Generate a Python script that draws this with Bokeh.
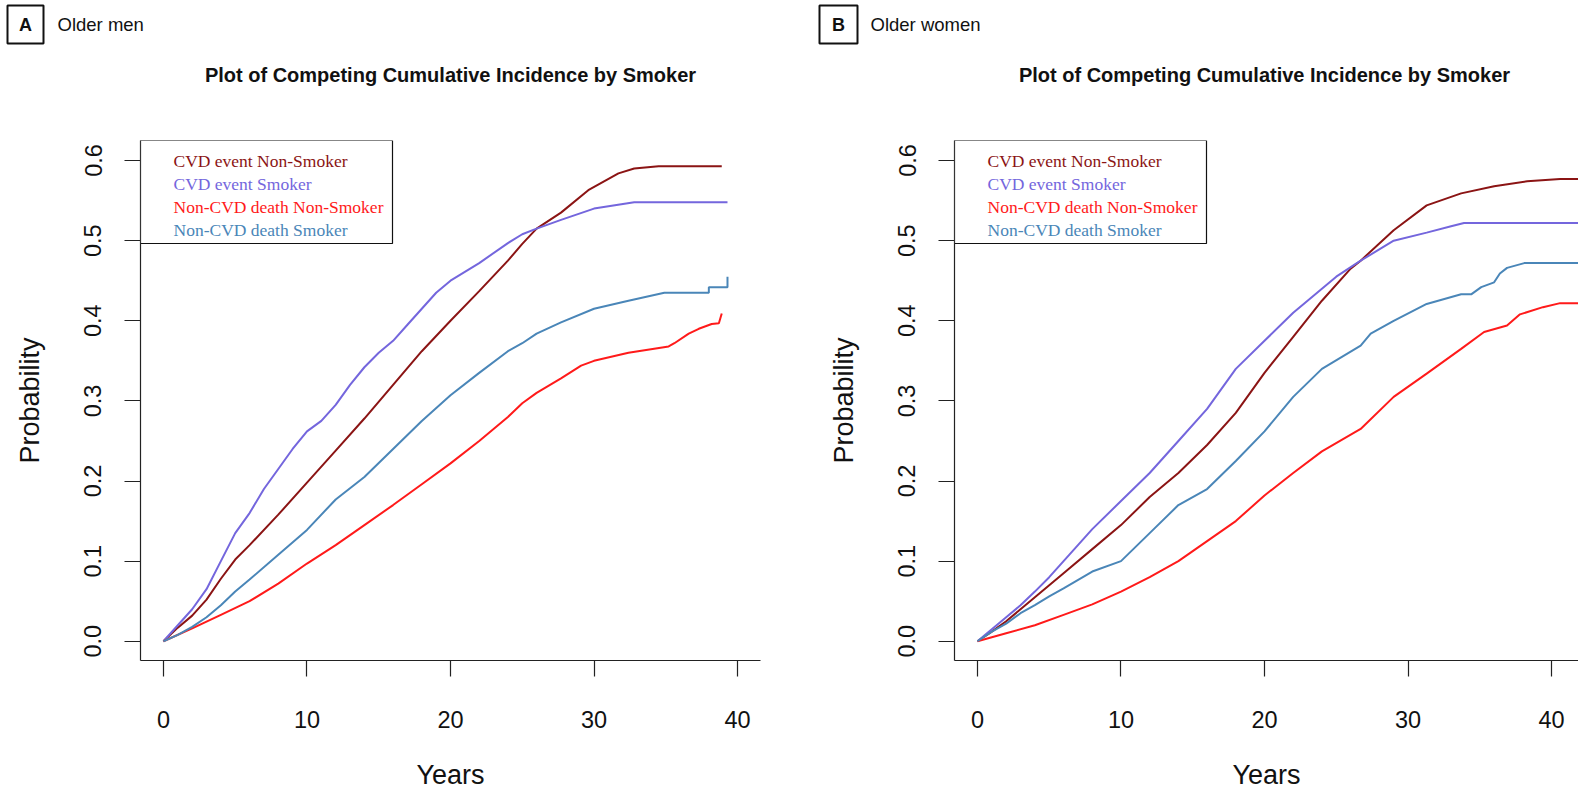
from bokeh.plotting import figure
from bokeh.layouts import row, column
from bokeh.models import BoxAnnotation, FixedTicker, Range1d, PrintfTickFormatter, Label
from bokeh.embed import file_html
from bokeh.resources import INLINE
from bokeh.core.properties import value

# ---------------- data ----------------
series_names = ["CVD event Non-Smoker", "CVD event Smoker",
                "Non-CVD death Non-Smoker", "Non-CVD death Smoker"]
series_colors = ["#8B1414", "#7466DD", "#FF1A1A", "#4A86B8"]

panel_letters = ["A", "B"]
panel_groups = ["Older men", "Older women"]
title_text = "Plot of Competing Cumulative Incidence by Smoker"
x_ticks = [0, 10, 20, 30, 40]
y_ticks = [0.0, 0.1, 0.2, 0.3, 0.4, 0.5, 0.6]

# Panel A (older men)
a_cvd_ns_t = [0, 1, 2, 3, 4, 5, 6, 8, 10, 12, 14, 16, 18, 20, 22, 24, 25, 26, 27.7, 29.6, 31.7, 32.8, 34.5, 38.9]
a_cvd_ns_v = [0, 0.017, 0.032, 0.052, 0.078, 0.102, 0.12, 0.158, 0.198, 0.238, 0.278, 0.32, 0.362, 0.40,
              0.437, 0.475, 0.496, 0.515, 0.535, 0.563, 0.584, 0.59, 0.593, 0.593]
a_cvd_s_t = [0, 1, 2, 3, 4, 5, 6, 7, 8, 9, 10, 11, 12, 13, 14, 15, 16, 17, 18, 19, 20, 22, 24, 25, 26,
             27.7, 30, 32.8, 39.3]
a_cvd_s_v = [0, 0.02, 0.04, 0.065, 0.1, 0.135, 0.16, 0.19, 0.215, 0.24, 0.262, 0.275, 0.295, 0.32, 0.342,
             0.36, 0.375, 0.395, 0.415, 0.435, 0.45, 0.472, 0.497, 0.508, 0.515, 0.526, 0.54, 0.548, 0.548]
a_ncvd_ns_t = [0, 2, 4, 6, 8, 10, 12, 14, 16, 18, 20, 22, 24, 25, 26, 27.7, 29.1, 30, 32.4, 35.2, 35.6,
               36.6, 37.3, 38.2, 38.7, 38.9]
a_ncvd_ns_v = [0, 0.016, 0.033, 0.05, 0.072, 0.097, 0.12, 0.145, 0.17, 0.196, 0.222, 0.25, 0.28, 0.297,
               0.31, 0.328, 0.344, 0.35, 0.36, 0.368, 0.372, 0.384, 0.39, 0.396, 0.397, 0.409]
a_ncvd_s_t = [0, 1, 2, 3, 4, 5, 6, 8, 10, 12, 14, 16, 18, 20, 22, 24, 25, 26, 27.7, 30, 32.4, 34.9,
              38.0, 38.0, 39.3, 39.3]
a_ncvd_s_v = [0, 0.008, 0.018, 0.03, 0.045, 0.062, 0.077, 0.108, 0.139, 0.177, 0.205, 0.24, 0.275, 0.307,
              0.335, 0.362, 0.372, 0.384, 0.398, 0.415, 0.425, 0.435, 0.435, 0.442, 0.442, 0.455]

# Panel B (older women)
b_cvd_ns_t = [0, 1, 2, 3, 4, 5, 6, 8, 10, 12, 14, 16, 18, 20, 22, 24, 26, 26.7, 29, 31.3, 33.7, 36,
              38.3, 40.6, 41.9]
b_cvd_ns_v = [0, 0.012, 0.025, 0.04, 0.055, 0.07, 0.085, 0.115, 0.145, 0.18, 0.21, 0.245, 0.285, 0.335,
              0.38, 0.425, 0.465, 0.475, 0.513, 0.544, 0.559, 0.568, 0.574, 0.577, 0.577]
b_cvd_s_t = [0, 1, 2, 3, 4, 5, 6, 8, 10, 12, 14, 16, 18, 20, 22, 24, 25, 26.7, 29, 31.3, 33, 33.9, 41.9]
b_cvd_s_v = [0, 0.015, 0.03, 0.045, 0.062, 0.08, 0.1, 0.14, 0.175, 0.21, 0.25, 0.29, 0.34, 0.375, 0.41,
             0.44, 0.455, 0.475, 0.50, 0.51, 0.518, 0.522, 0.522]
b_ncvd_ns_t = [0, 2, 4, 6, 8, 10, 12, 14, 16, 18, 20, 22, 24, 26.7, 29, 31.3, 33.7, 35.3, 36.9, 37.8,
               39.4, 40.6, 41.9]
b_ncvd_ns_v = [0, 0.01, 0.02, 0.033, 0.046, 0.062, 0.08, 0.1, 0.125, 0.15, 0.182, 0.21, 0.237, 0.265,
               0.305, 0.334, 0.365, 0.386, 0.394, 0.408, 0.417, 0.422, 0.422]
b_ncvd_s_t = [0, 1, 2, 3, 4, 5, 6, 8, 10, 12, 14, 16, 18, 20, 22, 24, 26.7, 27.4, 29, 31.3, 33.7, 34.4,
              35.1, 36, 36.4, 36.9, 38.1, 41.9]
b_ncvd_s_v = [0, 0.012, 0.022, 0.035, 0.045, 0.056, 0.066, 0.087, 0.1, 0.135, 0.17, 0.19, 0.225, 0.262,
              0.305, 0.34, 0.369, 0.384, 0.40, 0.421, 0.433, 0.433, 0.442, 0.448, 0.459, 0.466, 0.472, 0.472]

panel_series = [
    [(a_cvd_ns_t, a_cvd_ns_v), (a_cvd_s_t, a_cvd_s_v), (a_ncvd_ns_t, a_ncvd_ns_v), (a_ncvd_s_t, a_ncvd_s_v)],
    [(b_cvd_ns_t, b_cvd_ns_v), (b_cvd_s_t, b_cvd_s_v), (b_ncvd_ns_t, b_ncvd_ns_v), (b_ncvd_s_t, b_ncvd_s_v)],
]

# ---------------- layout ----------------
SANS = "Liberation Sans"
SERIF = "Liberation Serif"
PAGE_W = 1578
HEADER_H = 140
FRAME_H = 520
Y0, Y1 = -0.024, 0.625
X0 = -1.6
PX_PER_YEAR = 620 / 43.2

# (page left of frame, frame width, border left, border right)
panel_geom = [(140, 620, 140, 48), (954, 624, 146, 0)]

# ---- header strip (panel letters, group names, titles) ----
hdr = figure(width=PAGE_W, height=HEADER_H, x_range=Range1d(0, PAGE_W), y_range=Range1d(HEADER_H, 0),
             min_border_left=0, min_border_right=0, min_border_top=0, min_border_bottom=0,
             x_axis_type=None, y_axis_type=None, output_backend="svg", toolbar_location=None)
hdr.outline_line_color = None
hdr.xgrid.visible = False
hdr.ygrid.visible = False

box_cx = [25, 838]
hdr.rect(x=box_cx, y=[24, 24], width=[36, 38], height=[38, 38], fill_color=None,
         line_color="#111111", line_width=2)
hdr.text(x=box_cx, y=[24.5, 24.5], text=panel_letters, text_font=value(SANS),
         text_font_size=value("18px"), text_font_style="bold", text_color="#111111",
         text_align="center", text_baseline="middle")
hdr.text(x=[57, 870], y=[24, 24], text=panel_groups, text_font=value(SANS),
         text_font_size=value("18.5px"), text_color="#111111",
         text_align="left", text_baseline="middle")
title_cx = [g[0] + 310 for g in panel_geom]
hdr.text(x=title_cx, y=[74, 74], text=[title_text, title_text], text_font=value(SANS),
         text_font_size=value("20px"), text_font_style="bold", text_color="#111111",
         text_align="center", text_baseline="middle")


def build(i):
    frame_left, fw, bl, br = panel_geom[i]
    x1 = X0 + fw / PX_PER_YEAR
    p = figure(frame_width=fw, frame_height=FRAME_H,
               x_range=Range1d(X0, x1), y_range=Range1d(Y0, Y1),
               min_border_left=bl, min_border_right=br, min_border_top=0, min_border_bottom=40,
               output_backend="svg", toolbar_location=None)
    p.outline_line_color = None
    p.xgrid.visible = False
    p.ygrid.visible = False
    p.background_fill_color = "white"
    p.border_fill_color = "white"

    def xd(px):
        return X0 + (px - frame_left) / PX_PER_YEAR

    def yd(py):
        return Y1 - (py - HEADER_H) * (Y1 - Y0) / FRAME_H

    for ax in (p.xaxis[0], p.yaxis[0]):
        ax.axis_line_color = "#222222"
        ax.axis_line_width = 1.2
        ax.major_tick_line_color = "#222222"
        ax.major_tick_line_width = 1.2
        ax.major_tick_out = 16
        ax.major_tick_in = 0
        ax.minor_tick_out = 0
        ax.minor_tick_in = 0
        ax.major_label_text_font = SANS
        ax.major_label_text_font_size = "23.5px"
        ax.major_label_text_color = "#111111"
        ax.axis_label_text_font = SANS
        ax.axis_label_text_font_size = "27px"
        ax.axis_label_text_font_style = "normal"
        ax.axis_label_text_color = "#111111"

    p.xaxis.ticker = FixedTicker(ticks=x_ticks)
    p.yaxis.ticker = FixedTicker(ticks=y_ticks)
    p.yaxis.formatter = PrintfTickFormatter(format="%.1f")
    p.yaxis.major_label_orientation = "vertical"
    p.xaxis.major_label_standoff = 34
    p.yaxis.major_label_standoff = 23
    p.xaxis.axis_label = "Years"
    p.yaxis.axis_label = "Probability"
    p.xaxis.axis_label_standoff = 29
    p.yaxis.axis_label_standoff = 37

    # curves
    for (t, v), c in zip(panel_series[i], series_colors):
        p.line(t, v, line_color=c, line_width=2)

    # legend box (R style, top-left)
    box_right = frame_left + 252
    p.add_layout(BoxAnnotation(left=X0, right=xd(box_right), top=Y1, bottom=yd(243),
                               fill_color="white", fill_alpha=1.0,
                               line_color="#111111", line_alpha=1.0, line_width=1.2))
    for k, (name, c) in enumerate(zip(series_names, series_colors)):
        p.add_layout(Label(x=xd(frame_left + 33), y=yd(160 + 23.3 * k), text=name,
                           text_font=SERIF, text_font_size="17.5px", text_color=c,
                           text_align="left", text_baseline="middle"))
    return p


pA = build(0)
pB = build(1)
layout = column(hdr, row(pA, pB, spacing=0), spacing=0)
open("out.html", "w").write(file_html(layout, INLINE))
